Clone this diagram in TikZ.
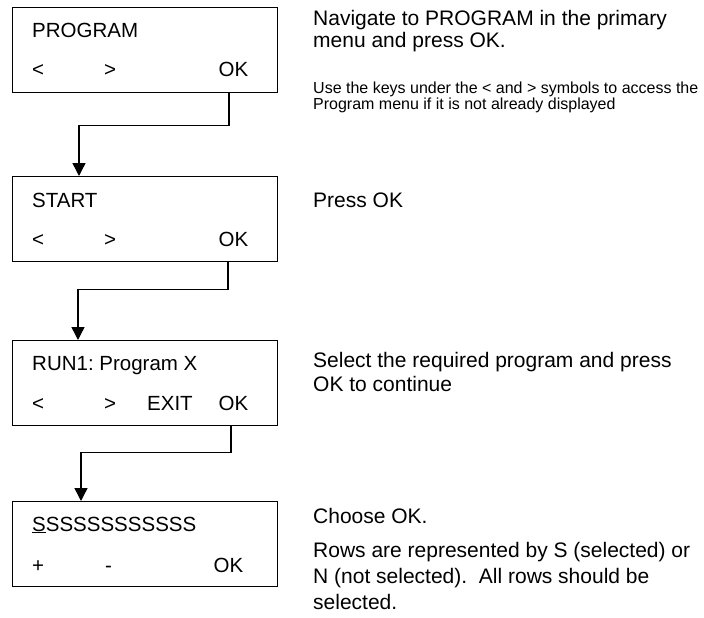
\documentclass[tikz,border=0pt]{standalone}
\usepackage{fontspec}
\setmainfont{Liberation Sans}
\usetikzlibrary{positioning,arrows.meta}
\frenchspacing

\begin{document}
\begin{tikzpicture}[x=1pt,y=1pt,
          arrowstyle/.style={-{Triangle[length=13pt,width=13pt]}, line width=1.4pt}]
          % A screen box style and its text
          \tikzstyle{screenbox} = [draw, rectangle, line width=1.4pt, minimum width=265pt, minimum height=85pt, inner sep=0pt, anchor=north west]
          \tikzstyle{lcdtext} = [anchor=base west, inner sep=0pt, font=\fontsize{20.5}{24}\selectfont]
          \tikzstyle{lcdkey} = [anchor=base east, inner sep=0pt, font=\fontsize{20.5}{24}\selectfont]
          % hints are placed at the baseline of their last line
          \tikzstyle{hint} = [anchor=base west, inner sep=0pt, align=left, font=\fontsize{21}{24}\selectfont]
          \tikzstyle{smallhint} = [hint, font=\fontsize{16}{17}\selectfont]

          \useasboundingbox (0,0) rectangle (704,-618);

          % Place the screens vertically (top to bottom)
          \node (Program) [screenbox] at (12,-7) {};
          \node (Start)   [screenbox] at (12,-176) {};
          \node (Run)     [screenbox] at (12,-340) {};
          \node (Rows)    [screenbox] at (12,-501) {};

          % Screen texts
          \node (ProgramTitle) [lcdtext] at ([xshift=20pt,yshift=-31pt]Program.north west) {PROGRAM};
          \node (ProgramLeft)  [lcdtext] at ([xshift=20pt,yshift=-70pt]Program.north west) {<};
          \node (ProgramRight) [lcdtext] at ([xshift=92pt,yshift=-70pt]Program.north west) {>};
          \node (ProgramOK)    [lcdkey]  at ([xshift=-30pt,yshift=-70pt]Program.north east) {OK};

          \node (StartTitle) [lcdtext] at ([xshift=20pt,yshift=-31pt]Start.north west) {START};
          \node (StartLeft)  [lcdtext] at ([xshift=20pt,yshift=-70pt]Start.north west) {<};
          \node (StartRight) [lcdtext] at ([xshift=92pt,yshift=-70pt]Start.north west) {>};
          \node (StartOK)    [lcdkey]  at ([xshift=-30pt,yshift=-70pt]Start.north east) {OK};

          \node (RunTitle) [lcdtext] at ([xshift=20pt,yshift=-30pt]Run.north west) {RUN1: Program X};
          \node (RunLeft)  [lcdtext] at ([xshift=20pt,yshift=-70pt]Run.north west) {<};
          \node (RunRight) [lcdtext] at ([xshift=92pt,yshift=-70pt]Run.north west) {>};
          \node (RunExit)  [lcdtext] at ([xshift=135pt,yshift=-70pt]Run.north west) {EXIT};
          \node (RunOK)    [lcdkey]  at ([xshift=-30pt,yshift=-70pt]Run.north east) {OK};

          \node (RowsTitle) [lcdtext] at ([xshift=20pt,yshift=-30pt]Rows.north west) {\underline{S}SSSSSSSSSSS};
          \node (RowsPlus)  [lcdtext] at ([xshift=20pt,yshift=-71pt]Rows.north west) {+};
          \node (RowsMinus) [lcdtext] at ([xshift=93pt,yshift=-71pt]Rows.north west) {-};
          \node (RowsOK)    [lcdkey]  at ([xshift=-35pt,yshift=-71pt]Rows.north east) {OK};

          % Instructions on the right
          \node (NavHint)   [hint, font=\fontsize{21}{22}\selectfont] at (313,-48) {Navigate to PROGRAM in the primary\\menu and press OK.};
          \node (KeysHint)  [smallhint] at (313,-110) {Use the keys under the < and > symbols to access the\\Program menu if it is not already displayed};
          \node (PressHint) [hint]      at (313,-207) {Press OK};
          \node (SelHint)   [hint]      at (313,-391) {Select the required program and press\\OK to continue};
          \node (ChooseHint)[hint]      at (313,-523) {Choose OK.};
          \node (RowsHint)  [hint, font=\fontsize{21}{26}\selectfont] at (313,-609) {Rows are represented by S (selected) or\\N (not selected).\ \ All rows should be\\selected.};

          % Draw arrows downwards
          \draw[arrowstyle] ([xshift=217pt]Program.south west) -- ++(0,-32) -| ([xshift=67pt]Start.north west);
          \draw[arrowstyle] ([xshift=216pt]Start.south west) -- ++(0,-27) -| ([xshift=66pt]Run.north west);
          \draw[arrowstyle] ([xshift=219pt]Run.south west) -- ++(0,-26) -| ([xshift=69pt]Rows.north west);

          \end{tikzpicture}
\end{document}
